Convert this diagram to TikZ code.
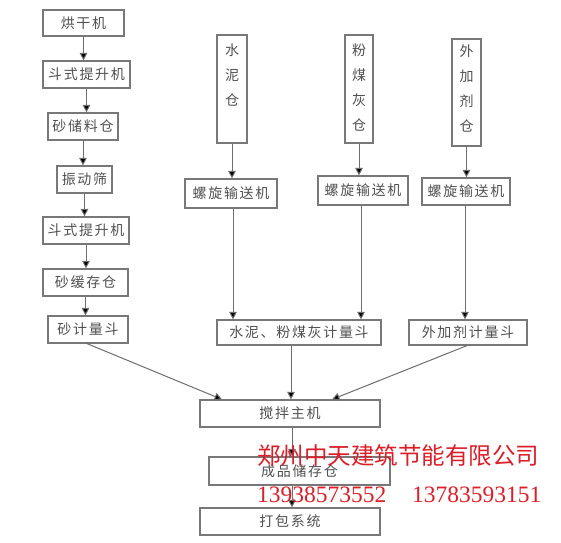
\documentclass[tikz,border=0pt]{standalone}
\usepackage{fontspec}
\newfontfamily\cjk[LetterSpace=12]{Noto Sans CJK SC}
\newfontfamily\cjkred{Noto Sans CJK SC}
\newfontfamily\digits{Liberation Serif}
\usetikzlibrary{arrows.meta}
\definecolor{boxline}{RGB}{120,120,120}
\definecolor{boxtext}{RGB}{80,80,80}
\definecolor{arrline}{RGB}{110,110,110}
\definecolor{redtext}{RGB}{220,30,40}
\tikzset{
  box/.style={draw=boxline, line width=1.2pt, rectangle, inner sep=0pt,
    text=boxtext, font=\cjk\fontsize{14}{14}\selectfont},
  vlabel/.style={inner sep=0pt, text=boxtext, align=center, anchor=north,
    font=\cjk\fontsize{14}{25}\selectfont},
  arr/.style={draw=arrline, line width=1pt, -{Triangle[length=7.5pt,width=7.5pt,fill=black]}},
  redlbl/.style={text=redtext, inner sep=0pt, anchor=west}
}
\begin{document}
\begin{tikzpicture}[x=1pt,y=-1pt]
\useasboundingbox (0,0) rectangle (561,542);
\fill[white] (0,0) rectangle (561,542);
% left column
\node[box, minimum width=81, minimum height=26] (b1) at (83.5,23) {烘干机};
\node[box, minimum width=87, minimum height=27] (b2) at (86.5,74.5) {斗式提升机};
\node[box, minimum width=70, minimum height=27] (b3) at (83,126.5) {砂储料仓};
\node[box, minimum width=55, minimum height=27] (b4) at (84.5,179.5) {振动筛};
\node[box, minimum width=86, minimum height=27] (b5) at (86,230.5) {斗式提升机};
\node[box, minimum width=85, minimum height=27] (b6) at (85.5,282.5) {砂缓存仓};
\node[box, minimum width=80, minimum height=27] (b7) at (88,329.5) {砂计量斗};
% silos
\node[box, minimum width=30, minimum height=108] (c1) at (232,89) {};
\node[vlabel] (c1t) at (232,44) {水\\泥\\仓};
\node[box, minimum width=28, minimum height=108] (c2) at (359,89) {};
\node[vlabel] (c2t) at (359,44) {粉\\煤\\灰\\仓};
\node[box, minimum width=29, minimum height=107] (c3) at (466.5,92.5) {};
\node[vlabel] (c3t) at (466.5,45) {外\\加\\剂\\仓};
% screw conveyors
\node[box, minimum width=92, minimum height=29] (s1) at (231,193.5) {螺旋输送机};
\node[box, minimum width=90, minimum height=29] (s2) at (363,190.5) {螺旋输送机};
\node[box, minimum width=88, minimum height=27] (s3) at (466,191.5) {螺旋输送机};
% hoppers
\node[box, minimum width=164, minimum height=25] (m1) at (299,332.5) {水泥、粉煤灰计量斗};
\node[box, minimum width=118, minimum height=25] (m2) at (468,332.5) {外加剂计量斗};
% main line
\node[box, minimum width=180, minimum height=27] (mix) at (290,413.5) {搅拌主机};
\node[box, minimum width=181, minimum height=28] (st) at (299.5,471) {成品储存仓};
\node[box, minimum width=180, minimum height=27] (pk) at (290,521.5) {打包系统};
% guide coordinates for arrow columns
\coordinate (xs1) at (233,0);
\coordinate (xs2) at (361,0);
\coordinate (xs3) at (465,0);
\coordinate (xm1) at (291,0);
\coordinate (xm2) at (467,0);
\coordinate (xb7) at (87,0);
\coordinate (xin1) at (222,0);
\coordinate (xin3) at (332,0);
\coordinate (xmain) at (292,0);
% arrows left column
\foreach \a/\b in {b1/b2,b2/b3,b3/b4,b4/b5,b5/b6,b6/b7}
  \draw[arr] (\a.south) -- (\a.south |- \b.north);
% silo arrows
\draw[arr] (c1.south) -- (c1.south |- s1.north);
\draw[arr] (c2.south) -- (c2.south |- s2.north);
\draw[arr] (c3.south) -- (c3.south |- s3.north);
\draw[arr] (s1.south -| xs1) -- (xs1 |- m1.north);
\draw[arr] (s2.south -| xs2) -- (xs2 |- m1.north);
\draw[arr] (s3.south -| xs3) -- (xs3 |- m2.north);
% into mixer
\draw[arr] (b7.south -| xb7) -- (xin1 |- mix.north);
\draw[arr] (m1.south -| xm1) -- (xm1 |- mix.north);
\draw[arr] (m2.south -| xm2) -- (xin3 |- mix.north);
\draw[arr] (mix.south -| xmain) -- (xmain |- st.north);
\draw[arr] (st.south -| xmain) -- (xmain |- pk.north);
% red overlay
\node[redlbl, font=\cjkred\fontsize{23.5}{23.5}\selectfont] (co) at (257,455) {郑州中天建筑节能有限公司};
\node[redlbl, font=\digits\fontsize{23.5}{23.5}\selectfont] (ph1) at (257,495) {13938573552};
\node[redlbl, font=\digits\fontsize{23.5}{23.5}\selectfont] (ph2) at (412,495) {13783593151};
\end{tikzpicture}
\end{document}
